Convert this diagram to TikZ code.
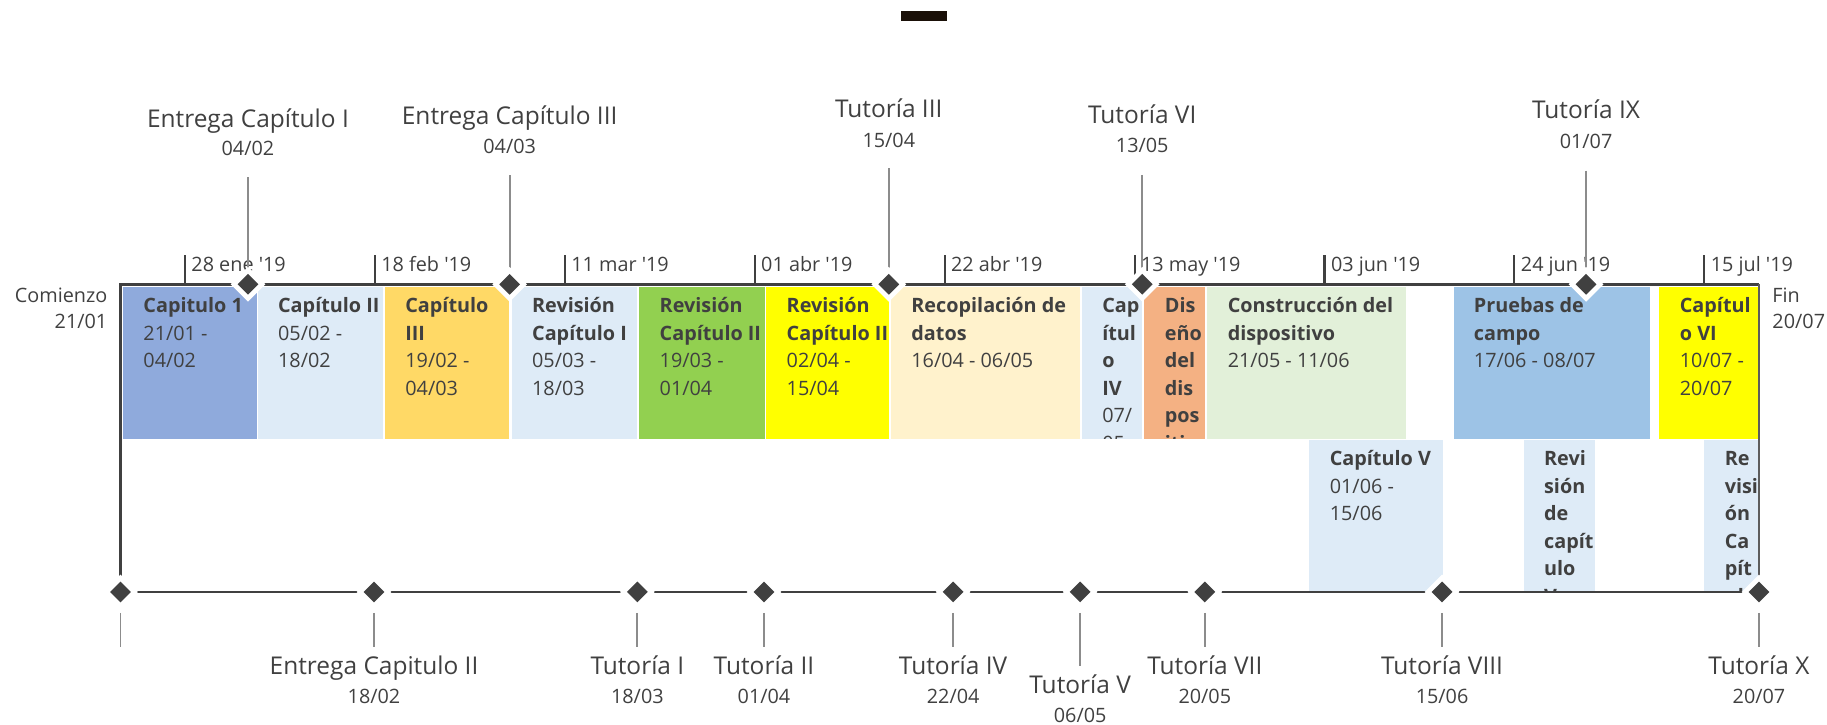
\documentclass[tikz,border=0pt]{standalone}
\usepackage{fontspec}
\setmainfont{Open Sans}
\usetikzlibrary{shapes.geometric}
\definecolor{ink}{HTML}{404040}
\definecolor{connc}{HTML}{8C8C8C}
\definecolor{barc}{HTML}{1A1008}
\definecolor{cBlueDark}{HTML}{8FAADC}
\definecolor{cBlueLight}{HTML}{DEEBF7}
\definecolor{cGold}{HTML}{FFD966}
\definecolor{cGreen}{HTML}{92D050}
\definecolor{cYellow}{HTML}{FFFF00}
\definecolor{cCream}{HTML}{FFF2CC}
\definecolor{cOrange}{HTML}{F4B183}
\definecolor{cMint}{HTML}{E2F0D9}
\definecolor{cSky}{HTML}{9DC3E6}
% #1 name, #2 x left, #3 x right, #4 y top, #5 y bottom, #6 colour, #7 lines
\newcommand\gbox[7]{%
  \pgfmathsetmacro\gbw{#3-#2}\pgfmathsetmacro\gbh{#5-#4}%
  \node[gantt, fill=#6, minimum width=\gbw pt, minimum height=\gbh pt] (#1) at (#2,#4) {};
  \begin{scope}
    \clip (#2,#4) rectangle (#3,#5);
    \foreach \gline [count=\i] in {#7} {
      \node[txt, anchor=base west] (#1-\i) at ({#2+17.5},{#4+22+23.6*(\i-1)}) {\gline};
    }
  \end{scope}}
\begin{document}
\begin{tikzpicture}[x=1pt,y=-1pt,
  txt/.style={text=ink, inner sep=0pt, font=\fontsize{17}{20}\selectfont},
  ttl/.style={text=ink, inner sep=0pt, font=\fontsize{21}{25}\selectfont},
  gantt/.style={anchor=north west, inner sep=0pt, draw=none, rectangle},
  halo/.style={diamond, fill=white, inner sep=0pt, minimum width=30pt, minimum height=30pt},
  ms/.style={diamond, fill=ink, inner sep=0pt, minimum width=18pt, minimum height=18pt},
  axisline/.style={draw=ink, line width=2.4pt},
  baseline axis/.style={draw=ink, line width=2pt},
  endline/.style={draw=ink!85, line width=1.2pt},
  conn/.style={draw=connc, line width=1.5pt},
  tickmark/.style={draw=ink, line width=1.8pt},
]
\useasboundingbox (0,0) rectangle (1568,622);
\fill[barc] (773.4,9.4) rectangle (812.7,17.7);

% ---- task boxes, upper row
\gbox{t1}{105.4}{220}{246.5}{376.5}{cBlueDark}{\textbf{Capitulo 1},21/01 -,04/02}
\gbox{t2}{221}{328.2}{246.5}{376.5}{cBlueLight}{\textbf{Capítulo II},05/02 -,18/02}
\gbox{t3}{330.2}{437}{246.5}{376.5}{cGold}{\textbf{Capítulo},\textbf{III},19/02 -,04/03}
\gbox{t4}{439}{546.5}{246.5}{376.5}{cBlueLight}{\textbf{Revisión},\textbf{Capítulo I},05/03 -,18/03}
\gbox{t5}{548.5}{656}{246.5}{376.5}{cGreen}{\textbf{Revisión},\textbf{Capítulo II},19/03 -,01/04}
\gbox{t6}{657.5}{762.8}{246.5}{376.5}{cYellow}{\textbf{Revisión},\textbf{Capítulo II},02/04 -,15/04}
\gbox{t7}{764.5}{927}{246.5}{376.5}{cCream}{\textbf{Recopilación de},\textbf{datos},16/04 - 06/05}
\gbox{t8}{928.3}{980}{246.5}{376.5}{cBlueLight}{\textbf{Cap},\textbf{ítul},\textbf{o},\textbf{IV},07/,05 -}
\gbox{t9}{982}{1034}{246.5}{376.5}{cOrange}{\textbf{Dis},\textbf{eño},\textbf{del},\textbf{dis},\textbf{pos},\textbf{itiv}}
\gbox{t10}{1036}{1206.8}{246.5}{376.5}{cMint}{\textbf{Construcción del},\textbf{dispositivo},21/05 - 11/06}
\gbox{t11}{1247.3}{1415.5}{246.5}{376.5}{cSky}{\textbf{Pruebas de},\textbf{campo},17/06 - 08/07}
\gbox{t12}{1424}{1509.6}{246.5}{376.5}{cYellow}{\textbf{Capítul},\textbf{o VI},10/07 -,20/07}
% ---- task boxes, lower row
\gbox{t13}{1123.6}{1238.6}{377.7}{507}{cBlueLight}{\textbf{Capítulo V},01/06 -,15/06}
\gbox{t14}{1307.5}{1369}{377.7}{507}{cBlueLight}{\textbf{Revi},\textbf{sión},\textbf{de},\textbf{capít},\textbf{ulo},\textbf{V}}
\gbox{t15}{1462.6}{1509.6}{377.7}{507}{cBlueLight}{\textbf{Re},\textbf{visi},\textbf{ón},\textbf{Ca},\textbf{pít},\textbf{ulo}}

% ---- milestone positions
\foreach \n/\x in {1/212.8,2/437.4,3/762.8,4/980.3,5/1361.2} \coordinate (tp\n) at (\x,244);
\foreach \n/\x in {0/103.4,1/321,2/547,3/655.7,4/818,5/927,6/1034,7/1237.6,8/1509.6} \coordinate (bp\n) at (\x,508);
\coordinate (axL) at (103.4,244);
\coordinate (axR) at (1509.6,244);

% ---- axes
\draw[axisline] (bp0) -- (axL) -- (axR);
\draw[endline] (axR) -- (bp8);
\draw[baseline axis] (bp0) -- (bp8);

% ---- scale ticks
\foreach \x/\tklab [count=\k] in {158.7/28 ene,321.7/18 feb,484.7/11 mar,647.7/01 abr,810.7/22 abr,973.7/13 may,1136.7/03 jun,1299.7/24 jun,1462.7/15 jul} {
  \coordinate (tka\k) at (\x,219);
  \coordinate (tkb\k) at (\x,244);
  \draw[tickmark] (tka\k) -- (tkb\k);
  \node[txt, anchor=base west] (tkl\k) at ({\x+5.4},233.3) {\tklab{} \textquotesingle19};
}

% ---- start / end
\node[txt, anchor=base east] (start1) at (92.3,259.3) {Comienzo};
\node[txt, anchor=base east] (start2) at (92.3,282.1) {21/01};
\node[txt, anchor=base west] (end1) at (1521,259.3) {Fin};
\node[txt, anchor=base west] (end2) at (1521,282.1) {20/07};

% ---- upper milestones: labels and connectors
\node[ttl, anchor=base] (lt1) at (212.8,109.1) {Entrega Capítulo I};
\node[txt, anchor=base] (ld1) at (212.8,133.4) {04/02};
\node[ttl, anchor=base] (lt2) at (437.4,107.1) {Entrega Capítulo III};
\node[txt, anchor=base] (ld2) at (437.4,132) {04/03};
\node[ttl, anchor=base] (lt3) at (762.8,100.5) {Tutoría III};
\node[txt, anchor=base] (ld3) at (762.8,126.3) {15/04};
\node[ttl, anchor=base] (lt4) at (980.3,106.2) {Tutoría VI};
\node[txt, anchor=base] (ld4) at (980.3,131.1) {13/05};
\node[ttl, anchor=base] (lt5) at (1361.2,101.9) {Tutoría IX};
\node[txt, anchor=base] (ld5) at (1361.2,127.7) {01/07};
\foreach \n/\x/\y in {1/212.8/152.2,2/437.4/150.2,3/762.8/144.5,4/980.3/150,5/1361.2/146.5} {
  \coordinate (tc\n) at (\x,\y);
  \draw[conn] (tc\n) -- (tp\n);
}

% ---- diamonds with white halo
\foreach \n in {1,...,5} {
  \node[halo] (th\n) at (tp\n) {};
  \node[ms] (tm\n) at (tp\n) {};
}
\foreach \n in {0,...,8} {
  \node[halo] (bh\n) at (bp\n) {};
  \node[ms] (bm\n) at (bp\n) {};
}

% ---- lower milestones: connectors and labels
\foreach \n/\x/\y in {0/103.4/555,1/321/555,2/547/555,3/655.7/555,4/818/555,5/927/571.6,6/1034/555,7/1237.6/555,8/1509.6/555} {
  \coordinate (bs\n) at (\x,526);
  \coordinate (be\n) at (\x,\y);
  \draw[conn] (bs\n) -- (be\n);
}
\node[ttl, anchor=base] (bt1) at (321,578.8) {Entrega Capitulo II};
\node[txt, anchor=base] (bd1) at (321,603.4) {18/02};
\node[ttl, anchor=base] (bt2) at (547,578.8) {Tutoría I};
\node[txt, anchor=base] (bd2) at (547,603.4) {18/03};
\node[ttl, anchor=base] (bt3) at (655.7,578.8) {Tutoría II};
\node[txt, anchor=base] (bd3) at (655.7,603.4) {01/04};
\node[ttl, anchor=base] (bt4) at (818,578.8) {Tutoría IV};
\node[txt, anchor=base] (bd4) at (818,603.4) {22/04};
\node[ttl, anchor=base] (bt5) at (927,594.8) {Tutoría V};
\node[txt, anchor=base] (bd5) at (927,620.3) {06/05};
\node[ttl, anchor=base] (bt6) at (1034,578.8) {Tutoría VII};
\node[txt, anchor=base] (bd6) at (1034,603.4) {20/05};
\node[ttl, anchor=base] (bt7) at (1237.6,578.8) {Tutoría VIII};
\node[txt, anchor=base] (bd7) at (1237.6,603.4) {15/06};
\node[ttl, anchor=base] (bt8) at (1509.6,578.8) {Tutoría X};
\node[txt, anchor=base] (bd8) at (1509.6,603.4) {20/07};
\end{tikzpicture}
\end{document}
